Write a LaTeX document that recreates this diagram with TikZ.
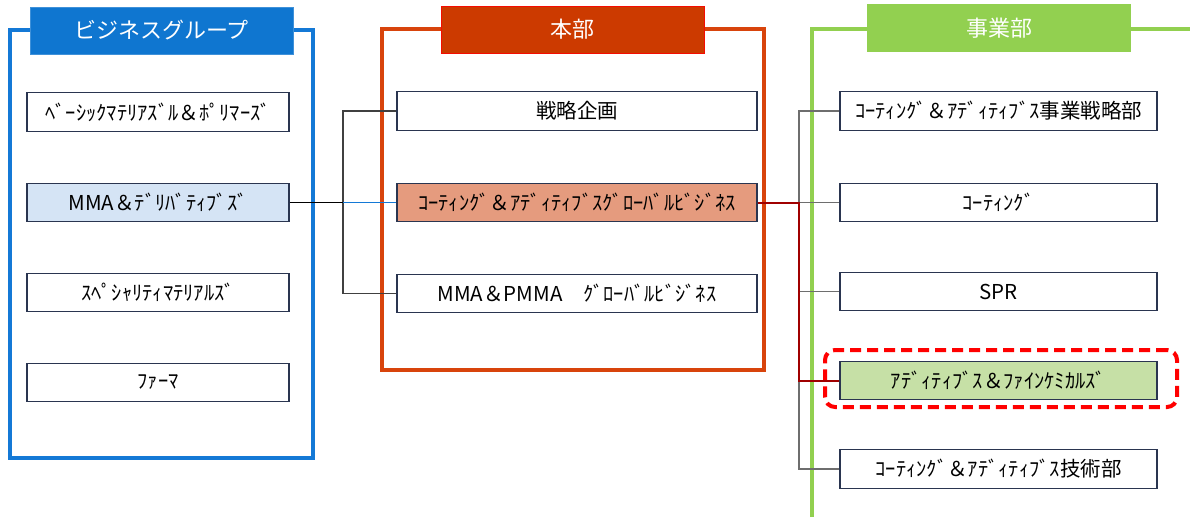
\documentclass[tikz,border=0pt]{standalone}
\usepackage{fontspec}
\setmainfont{Noto Sans CJK JP}
\definecolor{bgblue}{HTML}{1479D6}
\definecolor{hdblue}{HTML}{0F76D0}
\definecolor{bgred}{HTML}{D8440C}
\definecolor{hdred}{HTML}{CC3A00}
\definecolor{bggreen}{HTML}{92D050}
\definecolor{boxline}{HTML}{2A3550}
\definecolor{lblue}{HTML}{D5E4F5}
\definecolor{salmon}{HTML}{E59B7E}
\definecolor{lgreen}{HTML}{C6E0A6}
\definecolor{darkred}{HTML}{A00000}
\definecolor{conn}{HTML}{6E6E6E}
\tikzset{
  unitbox/.style={draw=boxline, line width=1.4pt, fill=white, minimum height=38.5pt, inner sep=0pt, font=\fontsize{20.5}{22}\selectfont},
  lbox/.style={unitbox, minimum width=262pt},
  mbox/.style={unitbox, minimum width=360pt},
  rbox/.style={unitbox, minimum width=317pt},
  header/.style={minimum width=263pt, minimum height=47pt, inner sep=0pt, text=white, font=\fontsize{22}{24}\selectfont},
  frame/.style={line width=3.3pt},
  connector/.style={draw=conn, line width=1.1pt},
}
\begin{document}
\begin{tikzpicture}[x=1pt,y=-1pt]
\useasboundingbox (0,0) rectangle (1190,517);
% frames
\draw[frame, bgblue] (10,30) rectangle (313,458);
\draw[frame, bgred] (382,29) rectangle (764,370);
\draw[frame, bggreen] (812,517) -- (812,29) -- (1190,29);
% headers
\node[header, fill=hdblue, draw=hdblue!80!white, line width=0.8pt] (hb) at (161.5,30.5) {ビジネスグループ};
\node[header, fill=hdred, draw=red!80!hdred, line width=0.8pt] (hr) at (572.5,29.5) {本部};
\node[header, fill=bggreen, minimum width=264pt, minimum height=48pt] (hg) at (999,28) {事業部};
% left boxes
\node[lbox] (l1) at (158,112) {ﾍﾞｰｼｯｸﾏﾃﾘｱｽﾞﾙ＆ﾎﾟﾘﾏｰｽﾞ};
\node[lbox, fill=lblue] (l2) at (158,202.5) {MMA＆ﾃﾞﾘﾊﾞﾃｨﾌﾞｽﾞ};
\node[lbox] (l3) at (158,292.5) {ｽﾍﾟｼｬﾘﾃｨﾏﾃﾘｱﾙｽﾞ};
\node[lbox] (l4) at (158,382.5) {ﾌｧｰﾏ};
% middle boxes
\node[mbox] (m1) at (577,111) {戦略企画};
\node[mbox, fill=salmon] (m2) at (577,202.5) {ｺｰﾃｨﾝｸﾞ＆ｱﾃﾞｨﾃｨﾌﾞｽｸﾞﾛｰﾊﾞﾙﾋﾞｼﾞﾈｽ};
\node[mbox] (m3) at (577,293.5) {MMA＆PMMA　ｸﾞﾛｰﾊﾞﾙﾋﾞｼﾞﾈｽ};
% right boxes
\node[rbox] (r1) at (998.5,111) {ｺｰﾃｨﾝｸﾞ＆ｱﾃﾞｨﾃｨﾌﾞｽ事業戦略部};
\node[rbox] (r2) at (998.5,202.5) {ｺｰﾃｨﾝｸﾞ};
\node[rbox] (r3) at (998.5,291.5) {SPR};
\node[rbox, fill=lgreen] (r4) at (998.5,380.5) {ｱﾃﾞｨﾃｨﾌﾞｽ＆ﾌｧｲﾝｹﾐｶﾙｽﾞ};
\node[rbox] (r5) at (998.5,469) {ｺｰﾃｨﾝｸﾞ＆ｱﾃﾞｨﾃｨﾌﾞｽ技術部};
% highlight
\node[draw=red, line width=4pt, dash pattern=on 11pt off 6pt, rounded corners=10pt, minimum width=352pt, minimum height=57pt] (hl) at (1001,378.5) {};
% bracket junctions
\coordinate (bL) at (343,0);
\coordinate (bR) at (799,0);
% middle bracket
\draw[connector, draw=black!75] (m1.west) -- (m1.west -| bL) -- (m3.west -| bL) -- (m3.west);
\draw[black, line width=1.4pt] (l2.east) -- (l2.east -| bL);
\draw[bgblue, line width=1.6pt] (l2.east -| bL) -- (m2.west);
% right bracket
\draw[connector] (r1.west) -- (r1.west -| bR) -- (r5.west -| bR) -- (r5.west);
\draw[connector] (r2.west -| bR) -- (r2.west);
\draw[connector] (r3.west -| bR) -- (r3.west);
\draw[darkred, line width=2pt] (m2.east) -- (m2.east -| bR) -- (r4.west -| bR) -- (r4.west);
\end{tikzpicture}
\end{document}
